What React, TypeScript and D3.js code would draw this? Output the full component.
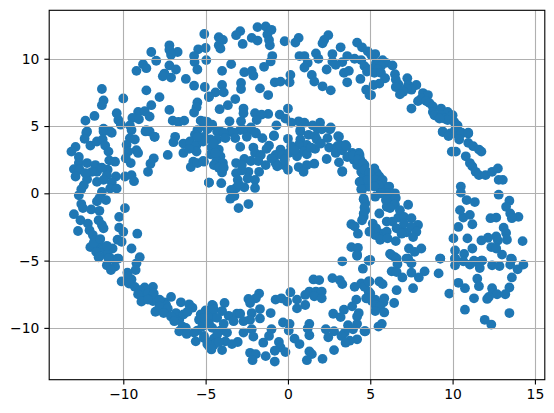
import React, { useRef, useEffect } from 'react';
import * as d3 from 'd3';

type Pt = [number, number];

const xTicks = [-10, -5, 0, 5, 10, 15];
const yTicks = [-10, -5, 0, 5, 10];

const upperLeft: Pt[] = [[-5.08,11.84],[-7.2,11],[-7.2,10.67],[-8.3,10.5],[-6.7,10.5],[-7.1,10.3],[-5.45,10.7],[-5,10.8],[-5.7,10.2],[-4.96,9.9],[-5.67,9.75],[-8,9.85],[-8.8,9.6],[-8.6,9.3],[-9.2,9.1],[-7.2,9.5],[-6.8,9.2],[-5.5,9.2],[-7.5,8.9],[-7.6,8.7],[-7.1,8.6],[-6.2,8.5],[-5.7,8],[-5.05,7.9],[-11.3,7.75],[-8.6,7.65],[-10,7.05],[-11.2,6.9],[-7.8,7.15],[-4.8,7.15],[-11.3,6.55],[-8.3,6.55],[-5.5,6.75],[-5.55,6.4],[-7.2,6.2],[-5.7,6],[-11.75,5.75],[-10.4,5.95],[-9.1,6.05],[-8.7,6.1],[-8.4,5.7],[-9.45,5.6],[-9.05,5.5],[-12.3,5.4],[-10.3,5.45],[-7,5.4],[-6.65,5.3],[-6.3,5.4],[-5.3,5.4],[-4.9,5.3],[-9.6,5.05],[-10.15,5.1],[-11.2,4.8],[-12.2,4.6],[-10.8,4.6],[-9.5,4.7],[-8.6,4.7],[-8.4,4.6],[-5.1,5],[-5.5,4.7],[-6.85,4.2],[-8.1,4.2]];

const upperMiddle: Pt[] = [[-2.9,12.05],[-3.15,11.75],[-1.85,12.35],[-1.35,12.4],[-1,12.15],[-1.25,11.8],[-4.2,11.6],[-3.95,11.4],[-2.2,11.55],[-1.85,11.35],[-1.15,11.4],[-0.2,11.3],[0.65,11.55],[0.45,11.2],[2.45,11.75],[2.2,11.4],[2.1,11.15],[-2.75,11.1],[-1.1,11],[-4.2,11],[-4.1,10.75],[4.2,11.2],[4.5,10.85],[3.2,10.85],[4.85,10.55],[1.7,10.4],[2.7,10.35],[1.85,10],[-0.95,10.2],[-1.05,9.8],[0.7,10.2],[1,10.2],[3.6,10.2],[4.05,10],[4.45,9.9],[2.7,9.8],[3.3,9.75],[2.9,9.55],[-3.45,9.6],[1.2,9.7],[1,9.35],[-1.45,9.4],[4.65,9.45],[-4,9.1],[-2.65,9],[-2.2,9.1],[-2.1,8.75],[2.35,9.2],[3.4,8.95],[3.7,9.1],[4.8,9.05],[0.15,8.8],[1.45,8.8],[4.4,8.5],[-0.8,8.25],[-0.45,8.3],[0.1,8.25],[1.6,8.3],[3.6,8.25],[-2.85,8.2],[-4,8.05],[2.1,7.95],[-2.85,7.75],[-1.7,7.8],[2.6,7.65],[4.75,7.7],[-4.4,7.5],[-3.9,7.5],[-4.8,7.2],[-1.2,7.3],[4.95,7.3],[-3.2,7],[-3.65,6.55],[-4.15,6.25],[0,6.3],[-2.7,6.3],[-2.7,5.95],[-2,5.95],[-1.2,5.9],[-1.6,5.85],[-0.5,5.85],[-0.15,5.55],[-1.9,5.45],[-2.85,5.35],[-3.55,5.35],[0.65,5.35],[1,5.25],[1.95,5.25],[1.5,5.05],[-0.7,5.05],[0.2,5.25],[-5.1,5.35],[-4.7,5],[2.6,4.9],[0.75,4.7],[1.8,4.8],[-2.9,4.7],[-2.4,4.7],[-4.1,4.6],[-3.5,4.6],[-0.85,4.3],[3.1,4.2],[-1.95,4.45]];

const upperRight: Pt[] = [[5.3,10.35],[5.05,10.3],[5.75,9.9],[5.35,9.7],[5.95,9.7],[6.35,9.5],[5.65,9.45],[5.15,9.3],[5.45,9.2],[5.25,8.95],[5.65,8.95],[6.5,8.85],[5.9,8.55],[6.55,8.45],[7.25,8.55],[6.7,8.1],[6.55,7.9],[5.55,8.15],[5.2,8.05],[7.3,8.05],[7.8,8.05],[7.5,7.7],[7.2,7.8],[7,7.55],[6.8,7.35],[5.05,7.3],[8.2,7.45],[8.5,7.3],[8.1,7.05],[7.9,6.85],[8.4,6.85],[8.6,6.7],[7.5,6.3],[8.8,6.45],[9.3,6.3],[8.8,6.05],[9.7,6.05],[10,5.8],[8.9,5.8],[9.3,5.8],[9.5,5.55],[9.7,5.45],[9.2,5.55],[10.1,5.3],[10.3,5.05],[9.4,4.6],[9.85,4.45],[10.15,4.7],[10.55,4.45],[10.95,4.45],[10.35,4.3]];

const middleLeft: Pt[] = [[-12.25,4.5],[-12.35,4.05],[-11.2,4.6],[-10.7,4.5],[-9.6,4.1],[-9.3,4],[-8.65,4.6],[-8.1,4.2],[-6.95,3.8],[-5.65,4.35],[-5.1,4.2],[-12,3.55],[-11.6,3.85],[-11.25,4],[-11.1,3.55],[-12.9,3.45],[-13.15,3.1],[-10.9,3.1],[-9.8,3.6],[-9.2,3.2],[-9.1,3],[-9.7,3.1],[-6.35,3.7],[-5.95,3.85],[-5.55,3.6],[-5.15,3.85],[-6.35,3],[-5.55,3.1],[-7.3,2.85],[-8.15,2.6],[-8.35,2.2],[-8.5,1.6],[-9.85,2.6],[-9.55,2.25],[-12.7,2.7],[-10.85,2.45],[-10.5,2.35],[-5.75,2.35],[-5.9,1.95],[-5.1,2.35],[-5.5,2.25],[-12.7,2.25],[-12.2,2.25],[-11.7,2.1],[-13,1.8],[-12.65,1.75],[-10.95,1.75],[-11.6,1.6],[-12.9,1.25],[-11,1.35],[-10.45,1.25],[-9.9,1.25],[-9.5,1.35],[-9.35,0.9],[-12.2,1.05],[-12.4,0.6],[-11.6,0.85],[-11.2,1],[-10.7,0.8],[-10.8,0.35],[-10.4,0.35],[-4.8,0.8],[-12.55,0.3],[-12.7,-0.15],[-11.3,0.1],[-11.45,-0.35],[-11.05,-0.5],[-11.6,-0.6],[-12.55,-0.8],[-12.45,-1.1],[-11.95,-1.2],[-11.45,-1.3],[-9.9,-1.1],[-13,-1.55],[-10.25,-1.75],[-12.6,-2],[-12.15,-2.25],[-11.5,-2],[-11.3,-2.35],[-11.2,-2.6],[-10.25,-2.55],[-10,-2.85],[-12.75,-2.8],[-12.05,-2.75],[-9.15,-3],[-11.85,-3.1],[-11.75,-3.5],[-10.35,-3.45],[-10.1,-3.6],[-12,-4],[-11.5,-3.85],[-11.2,-4.1],[-10.65,-4.1],[-11.65,-4.35],[-10.95,-4.5],[-9.5,-4.1],[-11.45,-4.7],[-10.75,-4.85],[-10.35,-4.85],[-9,-4.75]];

const innerArc: Pt[] = [[-4.6,5.1],[-4.9,4.75],[-4.3,4.6],[-3.9,4.5],[-3.3,4.5],[-2.75,4.75],[-2.25,4.9],[-1.95,4.5],[-1.55,4.1],[-0.85,4.25],[0,4.05],[0.75,4.6],[1.25,4.35],[1.65,4.25],[2.05,4.75],[2.55,4.75],[3.05,4.25],[0.75,4],[1.75,4],[2.4,4.1],[-4.7,4],[-4.3,4],[-1.15,3.55],[-2.9,3.45],[-2.1,3.4],[2.5,3.4],[1.65,3.3],[1.15,3.6],[0.65,3.6],[0.2,3.5],[-0.45,3.25],[3.5,3.6],[3,3.5],[-4.65,3.4],[-4.2,3.25],[0.95,3.1],[3.9,3],[4.3,3],[-4.7,2.9],[-4.1,2.75],[-2,3],[-1.65,2.85],[-0.75,2.85],[-0.35,2.85],[0.05,3],[0.55,2.75],[1.15,2.9],[-2.65,2.55],[-2.25,2.4],[-3.15,2.25],[2.35,2.55],[3.1,2.3],[4.4,2.5],[4.65,2.1],[-5.15,2.4],[-4.35,2.4],[-3.95,2.25],[-1.35,2.1],[-0.75,2.25],[-0.25,2.1],[-0.65,2],[0.65,1.95],[1.6,2.2],[1.15,2.1],[0.95,1.6],[0,1.75],[-2.4,1.6],[-1.75,1.6],[-4,1.55],[-3.15,1.5],[3.3,1.6],[4.75,1.6],[-3.05,1],[-2.45,1.1],[-2,1],[-4.8,0.8],[-4.05,0.75],[4.4,0.85],[4.8,0.85],[-3.15,0.4],[-2.65,0.45],[-2,0.4],[-3.45,0.25],[4.5,0.25],[-3.5,-0.4],[-3.25,-0.2],[4.6,-0.4],[4.7,-0.75],[-2.4,-0.8],[-3,-1.1],[4.7,-1.25],[4.6,-1.75]];

// dots hidden in the crowded parts of the rings
const crowded: Pt[] = [[-4.5,3.7],[-4.4,3],[-4.5,2.1],[-4.2,1.9],[-3.9,1.9],[-3.8,4.1],[-3.2,4.1],[-2.5,4.2],[-1.3,3.3],[-1,2.6],[-0.2,2.5],[0.4,3.2],[1.4,3.4],[2,3.7],[2.9,3],[3.3,3.2],[3.6,2.7],[4,2.5],[4.2,2.1],[4.45,1.6],[4.6,1.2],[-2.8,1.7],[-3,0.7],[-2.8,2.1],[-1.8,2.4],[-5.5,4.2],[-6,3.3],[-11.9,1.6],[-12.3,1.5],[-11.3,1.9],[-11.8,-3.7],[-11.4,-3.4],[-11,-3.9],[-9.5,-6.4],[-8.8,-7.5],[-8.2,-8],[-7.5,-8.1],[-7.4,-8.3],[-6.8,-8.9],[-6.6,-9.4],[-6.2,-10],[-5.4,-9.4],[-5.5,-10.2],[-4.6,-10],[-4.5,-10.8],[-4.1,-10.2],[-3.6,-9.1],[-5,-8.7],[5.6,0.3],[5.9,0.5],[6,-1],[6.3,-0.5],[5,1.2],[5.4,1.5],[4.9,0.5],[6.7,-1.8],[6.9,-2.7],[7.2,-2.9],[5.7,-3],[5.3,-3.1],[5.3,-7.9],[5.4,-8.5],[5.1,-8],[4.9,-7.3]];

const middleRight: Pt[] = [[3.15,3.6],[3.55,3.5],[3.95,2.85],[4.35,2.85],[4.25,2.5],[4.55,2.25],[3.3,1.65],[4.65,1.75],[4.35,0.85],[5.25,1.85],[4.95,1.5],[5.55,1.25],[5.25,1],[5.75,1],[4.85,1],[6.15,0.5],[5.5,0.6],[5.25,0.5],[4.45,0.3],[6.05,0],[6.5,0],[5.65,0],[5.3,-0.25],[6.55,-0.35],[5.95,-0.5],[4.6,-0.45],[7.3,-0.85],[6.5,-0.85],[6.2,-1.1],[4.65,-1.05],[6.8,-1.25],[5.55,-1.5],[4.6,-1.5],[7.05,-1.75],[7.5,-1.85],[4.5,-2],[6,-2.1],[6.35,-2.1],[5.15,-2.25],[7.05,-2.25],[3.85,-2.3],[4.05,-2.45],[5.35,-2.6],[7.9,-2.35],[7.5,-2.5],[6.6,-2.6],[4.95,-2.85],[4.25,-3],[6,-2.85],[7.8,-2.85],[7.6,-3.25],[6.9,-3],[5.6,-3.45],[6.05,-3.35],[6.55,-3.55],[3.85,-4],[4.25,-4.05],[4.2,-4.55],[4.95,-5],[6.2,-4.5],[6.5,-4.75],[7.35,-4.1],[8.1,-4.1],[7.7,-4.35],[7.3,-4.85],[9.25,-4.85],[10.15,-4.25],[10.05,-3.35],[10.9,-3.35],[10.35,-2.5],[11.2,-2.3],[10.65,-1.8],[11.05,-1.6],[10.45,-1.25],[10.85,-0.5],[11.35,-0.65],[10.5,0.5],[10.5,0.05],[12.8,-0.1],[13.45,-0.55],[13.25,-1],[13.5,-1.5],[14,-1.75],[13.6,-1.85],[12.3,-1.85],[12.65,-1.8],[13.1,-2.55],[13.25,-2.95],[13.3,-3.45],[14.25,-3.55],[12.65,-3.2],[12.15,-3.3],[11.75,-3.5],[12.75,-3.5],[12.35,-4],[12.65,-4.1],[11.2,-4.1],[10.7,-4.5],[10.15,-4.85],[13,-4.55],[13.55,-4.85],[11.8,-5],[11.3,-5],[9.4,4.55],[9.75,4.25],[10.55,4.5],[10.95,4.5],[10.4,4],[10.95,3.75],[11.25,3.5],[11.6,3.25],[11.75,3.1],[9.95,3.1],[10.2,3.1],[10.8,2.75],[11.05,2.25],[11.2,2],[11.4,1.6],[11.6,1.35],[12,1.35],[12.4,1.6],[12.75,1.85],[12.8,1],[13.05,1]];

const lowerLeft: Pt[] = [[-11.5,-4.75],[-10.9,-4.85],[-10.3,-4.85],[-9.2,-5.2],[-11,-5.35],[-10.5,-5.45],[-9.25,-5.7],[-10.75,-5.7],[-9.75,-5.9],[-9.7,-6.2],[-10.1,-6.55],[-9.65,-6.7],[-9.3,-6.95],[-8.2,-6.95],[-8.7,-7],[-9,-7.2],[-9.1,-7.5],[-8.5,-7.45],[-8.15,-7.45],[-7.1,-7.7],[-8.9,-8.05],[-8.5,-7.9],[-7.8,-7.9],[-6.5,-8.1],[-6,-8.25],[-5.8,-8.5],[-8.05,-8.8],[-7.8,-8.4],[-7.3,-8.55],[-7.55,-8.9],[-7.1,-9.15],[-6.35,-9],[-6.1,-8.8],[-5.3,-9],[-6.9,-9.5],[-6.4,-9.9],[-6.6,-10.25],[-6.15,-10.45],[-5.7,-10.35],[-5.6,-11],[-5.1,-10.6],[-5.2,-9.9],[-4.8,-11.35],[-4.8,-9.75],[-4.8,-9.15],[-4.6,-8.3]];

const lowerMiddle: Pt[] = [[3.3,-5.05],[4.2,-4.65],[4.9,-5],[4.55,-5.6],[1.55,-6.4],[1.9,-6.45],[2.7,-6.3],[3.15,-6.45],[3.3,-6.75],[4.05,-6.95],[4.45,-6.7],[4.65,-6.95],[4.95,-6.55],[-1.75,-7.45],[0.15,-7.35],[-1.95,-7.8],[-2.4,-7.85],[1.3,-7.3],[1.05,-7.55],[1.7,-7.3],[2.05,-7.3],[1.6,-7.65],[2.05,-7.8],[-0.75,-7.9],[-0.4,-7.8],[-0.05,-8.05],[0.55,-7.9],[4.75,-7.8],[4.15,-7.9],[-2.3,-8.15],[-4.55,-8.35],[-3.85,-8.15],[1.05,-8.3],[0.55,-8.55],[-1.7,-8.6],[3.9,-8.4],[3.4,-8.65],[-4.5,-8.65],[-4,-8.75],[-3.1,-8.95],[-2.9,-8.95],[-2.2,-8.9],[-1.05,-8.9],[-1.7,-9.3],[-2.3,-9.4],[2.75,-8.95],[3.2,-9.2],[4.3,-8.9],[4.2,-9.15],[-5.1,-9.25],[-4.7,-9.25],[-4.3,-9.25],[-3.3,-9.5],[-2.7,-9.5],[-0.3,-9.6],[0.1,-9.7],[1.3,-9.7],[3.65,-9.8],[4.2,-9.7],[-4.8,-9.7],[-3.9,-9.7],[-2.2,-10.1],[-1,-10.1],[1.2,-10.05],[2.3,-10.1],[2.8,-10.25],[3.45,-10.35],[3.95,-10.1],[4.65,-10.25],[-2.7,-10.35],[-4.3,-10.5],[-3.7,-10.35],[0.05,-10.2],[-1.15,-10.6],[1.3,-10.55],[-2.1,-10.65],[2.45,-10.7],[3.25,-10.6],[4.2,-10.85],[-4.8,-11.1],[-4.5,-11.25],[-3.8,-11],[-3.05,-11.05],[-3.4,-11.2],[-1.5,-11.1],[-0.55,-11.05],[0.4,-10.8],[0.7,-11.2],[3.75,-10.95],[3.5,-11.1],[-0.45,-11.45],[-4,-11.65],[-0.8,-11.7],[-0.15,-11.8],[-2.3,-11.85],[-1.95,-11.95],[-1.35,-12.1],[1.3,-11.75],[1.45,-11.95],[2.8,-11.65],[-2.15,-12.4],[-0.8,-12.5],[1.15,-12.4],[2.1,-12.3],[-5.1,-10.75],[-4.2,-11.05],[-4.9,-11.2],[-4.65,-11.6]];

const lowerRight: Pt[] = [[5,-4.95],[6.3,-4.6],[7.2,-4.85],[6.6,-4.85],[7.5,-5.2],[9.25,-4.85],[10.15,-4.85],[10.65,-5.05],[10.15,-5.35],[11.05,-5.3],[11.45,-5.1],[11.75,-5],[11.65,-5.55],[12.4,-5.35],[12.85,-5.4],[13.5,-5.3],[13.6,-4.9],[14.3,-5.3],[13.95,-5.65],[6.65,-5.25],[6.3,-5.8],[6.6,-5.85],[7.5,-5.9],[8.3,-5.8],[9.15,-5.95],[6.95,-6.25],[7.95,-6.25],[13.6,-6.25],[11.5,-6.35],[10.35,-6.65],[5.55,-6.55],[5.75,-6.75],[4.9,-6.55],[11.6,-6.9],[10.75,-7.05],[7.6,-7.05],[6.6,-7.2],[13.45,-7],[12.4,-7.05],[12.45,-7.4],[9.8,-7.45],[12.7,-7.5],[13.2,-7.5],[5,-7.45],[12.2,-7.7],[11.3,-7.8],[12.1,-7.85],[5.85,-7.8],[4.8,-7.8],[6.45,-8.15],[5.8,-8.1],[5.3,-8.3],[5.6,-8.4],[10.75,-8.65],[13.45,-8.9],[5.3,-8.75],[5.85,-8.85],[11.95,-9.4],[12.35,-9.75],[5.7,-9.7],[5.5,-9.9],[4.7,-10.25]];

const points: Pt[] = [...upperLeft, ...upperMiddle, ...upperRight, ...middleLeft, ...innerArc, ...crowded, ...middleRight, ...lowerLeft, ...lowerMiddle, ...lowerRight];

const width = 554;
const height = 413;

const App = () => {
    const svgRef = useRef<SVGSVGElement>(null);

    useEffect(() => {
        const svg = d3.select(svgRef.current);
        svg.selectAll("*").remove();

        const left = 49.2, right = 544.8, top = 10.3, bottom = 379.7;
        const x = d3.scaleLinear().domain([-14.5, 15.6]).range([left, right]);
        const y = d3.scaleLinear().domain([-13.85, 13.6]).range([bottom, top]);

        svg.append("g")
            .selectAll("circle")
            .data(points)
            .join("circle")
            .attr("cx", d => x(d[0]))
            .attr("cy", d => y(d[1]))
            .attr("r", 4.9)
            .attr("fill", "#1f77b4");

        // grid goes above the dots, same as matplotlib's default
        const grid = svg.append("g").attr("stroke", "#b0b0b0").attr("stroke-width", 1.11);
        xTicks.forEach(t => {
            const px = Math.round(x(t)) + 0.5;
            grid.append("line").attr("x1", px).attr("x2", px).attr("y1", top).attr("y2", bottom);
        });
        yTicks.forEach(t => {
            const py = Math.round(y(t)) + 0.5;
            grid.append("line").attr("x1", left).attr("x2", right).attr("y1", py).attr("y2", py);
        });

        const fmt = (d: d3.NumberValue) => String(d).replace("-", "\u2212");
        const xAxis = d3.axisBottom(x).tickValues(xTicks).tickSize(4.86).tickPadding(4.9).tickFormat(fmt);
        const yAxis = d3.axisLeft(y).tickValues(yTicks).tickSize(4.86).tickPadding(4.9).tickFormat(fmt);

        const gx = svg.append("g").attr("transform", `translate(0,${bottom})`).call(xAxis);
        const gy = svg.append("g").attr("transform", `translate(${left},0)`).call(yAxis);
        [gx, gy].forEach(g => {
            g.select(".domain").remove();
            g.selectAll("line").attr("stroke", "#000").attr("stroke-width", 1.11);
            g.selectAll("text")
                .attr("fill", "#000")
                .style("font-family", "'DejaVu Sans'")
                .style("font-size", "13.9px");
        });

        svg.append("rect")
            .attr("x", left).attr("y", top)
            .attr("width", right - left).attr("height", bottom - top)
            .attr("fill", "none").attr("stroke", "#000").attr("stroke-width", 1.11);
    }, []);

    return (
        <svg ref={svgRef} width={width} height={height}
            style={{ position: "absolute", left: 0, top: 0, background: "#fff" }}></svg>
    );
};

export default App;
